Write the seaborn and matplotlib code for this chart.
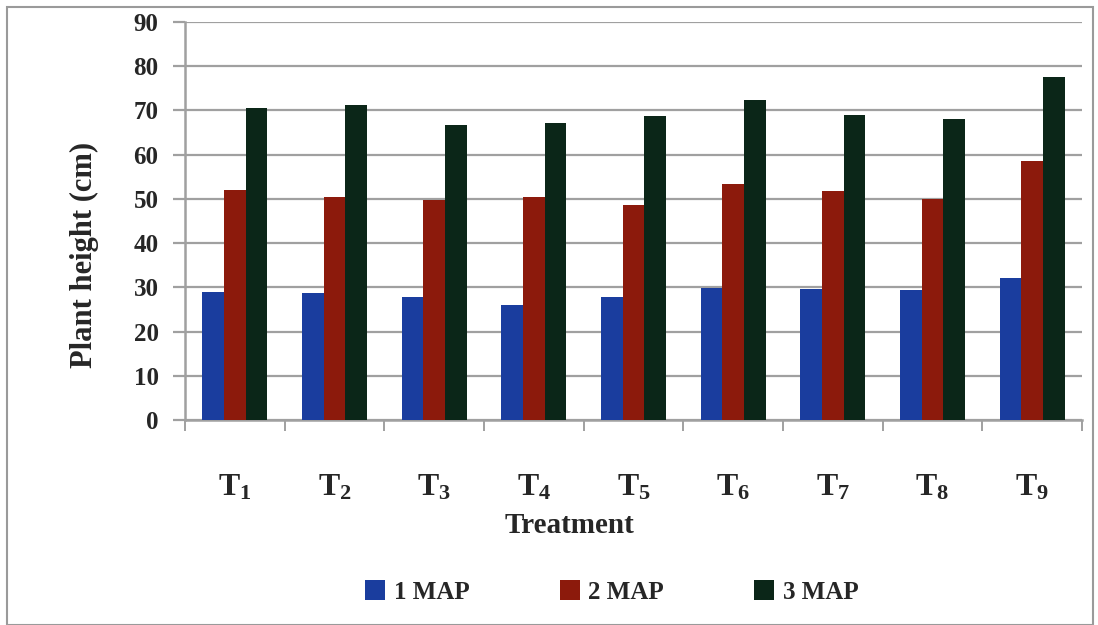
import matplotlib
matplotlib.use("Agg")
import matplotlib.pyplot as plt
import seaborn as sns
import pandas as pd
from matplotlib.patches import Rectangle

treatments = ["T1", "T2", "T3", "T4", "T5", "T6", "T7", "T8", "T9"]
tick_labels = [r"$\mathbf{T_{%d}}$" % i for i in range(1, 10)]
map1 = [29.0, 28.7, 27.9, 26.0, 27.8, 29.8, 29.6, 29.4, 32.2]
map2 = [52.0, 50.5, 49.8, 50.4, 48.6, 53.4, 51.7, 49.9, 58.6]
map3 = [70.5, 71.2, 66.7, 67.1, 68.8, 72.4, 69.0, 68.0, 77.5]
series_names = ["1 MAP", "2 MAP", "3 MAP"]
colors = ["#1a3d9e", "#8c1a0c", "#0b2618"]

df = pd.DataFrame({
    "Treatment": treatments * 3,
    "Stage": sum([[s] * len(treatments) for s in series_names], []),
    "Height": map1 + map2 + map3,
})

sns.set_theme(style="white")
plt.rcParams["font.family"] = ["Liberation Serif", "DejaVu Serif"]
plt.rcParams["font.weight"] = "bold"
plt.rcParams["mathtext.fontset"] = "custom"
plt.rcParams["mathtext.bf"] = "Liberation Serif:bold"
plt.rcParams["mathtext.rm"] = "Liberation Serif"

fig = plt.figure(figsize=(10.98, 6.25), dpi=100)
ax = fig.add_axes([185 / 1098, 1 - 420 / 625, (1082 - 185) / 1098, (420 - 22) / 625])

sns.barplot(data=df, x="Treatment", y="Height", hue="Stage", order=treatments,
            hue_order=series_names, palette=colors, width=0.65, gap=0,
            saturation=1, ax=ax, legend=True, zorder=3,
            edgecolor="none", linewidth=0)

ax.set_ylim(0, 90)
ax.set_xlim(-0.5, len(treatments) - 0.5)
ax.set_yticks(range(0, 91, 10))
ax.yaxis.grid(True, color="#a0a0a0", linewidth=1.6, zorder=0)
ax.set_axisbelow(True)
ax.tick_params(axis="y", which="major", direction="out", length=9, width=1.6,
               color="#a0a0a0", left=True, pad=10, labelsize=18)
ax.set_yticklabels([str(v) for v in range(0, 91, 10)], fontweight="bold")

ax.set_xticks(range(len(treatments)))
ax.set_xticklabels(tick_labels, fontsize=23)
ax.tick_params(axis="x", which="major", length=0, pad=38)
ax.set_xticks([i - 0.5 for i in range(len(treatments) + 1)], minor=True)
ax.tick_params(axis="x", which="minor", direction="out", length=8, width=1.4,
               color="#a0a0a0", bottom=True)

for s in ["top", "right"]:
    ax.spines[s].set_visible(False)
for s in ["left", "bottom"]:
    ax.spines[s].set_color("#a0a0a0")
    ax.spines[s].set_linewidth(1.8)

ax.set_xlabel("Treatment", fontsize=21, fontweight="bold")
ax.xaxis.set_label_coords((569 - 185) / 897, -(512 - 420) / 398)
ax.set_ylabel("Plant height (cm)", fontsize=22, fontweight="bold")
ax.yaxis.set_label_coords(-(185 - 99) / 897, (420 - 255) / 398)

handles, labels = ax.get_legend_handles_labels()
ax.get_legend().remove()
fig.legend(handles, labels, loc="center", bbox_to_anchor=(612 / 1098, 1 - 592 / 625),
           ncol=3, frameon=False, prop={"weight": "bold", "size": 18},
           handlelength=0.8, handleheight=0.8, handletextpad=0.35, columnspacing=3.6)

fig.patches.append(Rectangle((7 / 1098, 0), (1093 - 7) / 1098, (625 - 7) / 625,
                             transform=fig.transFigure, fill=False,
                             edgecolor="#9a9a9a", linewidth=1.5))

fig.savefig("out.png", dpi=100)
